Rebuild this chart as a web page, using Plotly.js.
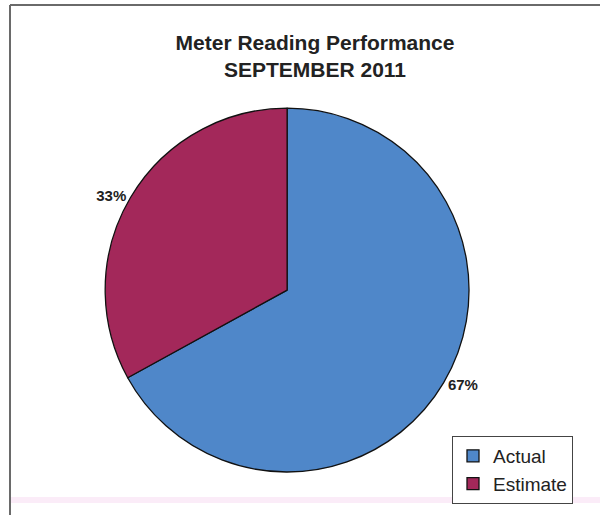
<!DOCTYPE html>
<html>
<head>
<meta charset="utf-8">
<script src="https://cdn.plot.ly/plotly-3.0.1.min.js"></script>
<style>
html,body{margin:0;padding:0;background:#fff;}
#chart{width:600px;height:515px;}
</style>
</head>
<body>
<div id="chart"></div>
<script>
const categories = ["Actual", "Estimate"];
const values = [67, 33];
const sliceColors = ["#4f87c9", "#a3285a"];
const titleLines = ["Meter Reading Performance", "SEPTEMBER 2011"];

const FONT = "'Liberation Sans', Arial, sans-serif";

const trace = {
  type: "pie",
  labels: categories,
  values: values,
  sort: false,
  direction: "clockwise",
  rotation: 0,
  marker: { colors: sliceColors, line: { color: "#111111", width: 1.3 } },
  textinfo: "percent",
  texttemplate: "%{percent:.0%}",
  textposition: "outside",
  outsidetextfont: { family: FONT, size: 15, color: "#222222", weight: "bold" },
  hoverinfo: "none",
  domain: { x: [0.05, 0.907], y: [0.0835, 0.790] }
};

const layout = {
  width: 600,
  height: 515,
  margin: { l: 0, r: 0, t: 0, b: 0 },
  paper_bgcolor: "#ffffff",
  font: { family: FONT, color: "#222222" },
  title: {
    text: "<b>" + titleLines.join("<br>") + "</b>",
    font: { family: FONT, size: 21, color: "#222222" },
    x: 0.525, xanchor: "center",
    y: 1 - 50 / 515, yanchor: "top",
    xref: "paper", yref: "container"
  },
  showlegend: true,
  legend: {
    x: 452 / 600, xanchor: "left",
    y: 1 - 504 / 515, yanchor: "bottom",
    bordercolor: "#444444", borderwidth: 1,
    bgcolor: "#ffffff",
    font: { family: FONT, size: 19, color: "#222222" },
    traceorder: "normal"
  },
  shapes: [
    { type: "line", xref: "paper", yref: "paper", x0: 10/600, x1: 1, y0: 1 - 5/515, y1: 1 - 5/515, line: { color: "#6a6a6a", width: 2 } },
    { type: "line", xref: "paper", yref: "paper", x0: 10/600, x1: 10/600, y0: 0, y1: 1 - 5/515, line: { color: "#6a6a6a", width: 2 } },
    { type: "rect", xref: "paper", yref: "paper", x0: 11/600, x1: 1, y0: 1 - 503/515, y1: 1 - 497/515, fillcolor: "#fbecf8", line: { width: 0 }, layer: "below" }
  ]
};

Plotly.newPlot("chart", [trace], layout, { staticPlot: true, displayModeBar: false });
</script>
</body>
</html>
